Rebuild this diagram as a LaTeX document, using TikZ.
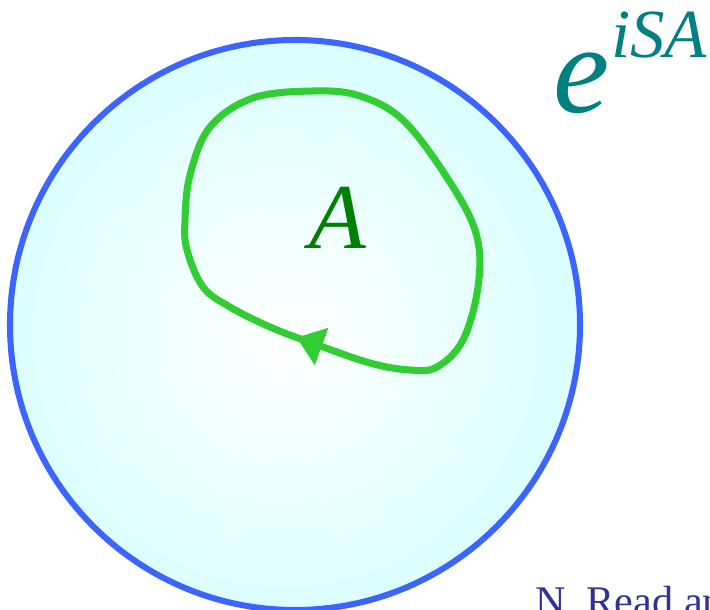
\documentclass[tikz,border=0pt]{standalone}
\usepackage{fontspec}
\setmainfont{Liberation Serif}
\usepackage{xcolor}
\usetikzlibrary{arrows.meta, decorations.markings}
\definecolor{ringblue}{RGB}{60, 100, 255}
\definecolor{ringfill}{RGB}{200, 255, 255}
\definecolor{loopgreen}{RGB}{50, 205, 50}
\definecolor{areagreen}{RGB}{0, 128, 0}
\definecolor{phaseteal}{RGB}{0, 128, 128}
\definecolor{citeblue}{RGB}{50, 50, 150}

\begin{document}
\begin{tikzpicture}[
    x=0.025cm, y=-0.025cm,
    ringline/.style={draw=ringblue, line width=4.3pt},
    loopline/.style={draw=loopgreen, line width=5pt, line join=round,
                     postaction={decorate},
                     decoration={markings, mark=at position 0.018 with
                       {\arrow{Triangle[length=19pt, width=27pt]}}}},
    labeltext/.style={inner sep=0pt, anchor=base west}
]
    \clip (0, 0) rectangle (710, 610);
    % shaded disc
    \coordinate (c) at (295, 325);
    \begin{scope}
        \clip (c) circle (285);
        \shade[inner color=white, outer color=ringfill] (285, 335) circle (440);
    \end{scope}
    \draw[ringline] (c) circle (285);
    % oriented loop
    \draw[loopline] plot[smooth cycle, tension=0.6] coordinates {
        (370, 363) (312, 343) (270, 327) (230, 307) (203, 287) (187, 250)
        (185, 220) (190, 175) (210, 127) (253, 98) (313, 91) (360, 96)
        (405, 122) (453, 187) (477, 237) (478, 287) (463, 340) (437, 367)
        (410, 370)};
    \node[labeltext, text=areagreen, font=\fontsize{66}{66}\selectfont\itshape]
        (area) at (309, 248) {A};
    \node[labeltext, text=phaseteal, font=\fontsize{90}{90}\selectfont\itshape]
        (phase) at (553, 113) {e};
    \node[labeltext, text=phaseteal, font=\fontsize{49}{49}\selectfont\itshape]
        (expo) at (611, 58) {iSA};
    \node[labeltext, text=citeblue, font=\fontsize{30}{30}\selectfont]
        (cite) at (535, 615) {N. Read an};
\end{tikzpicture}
\end{document}
